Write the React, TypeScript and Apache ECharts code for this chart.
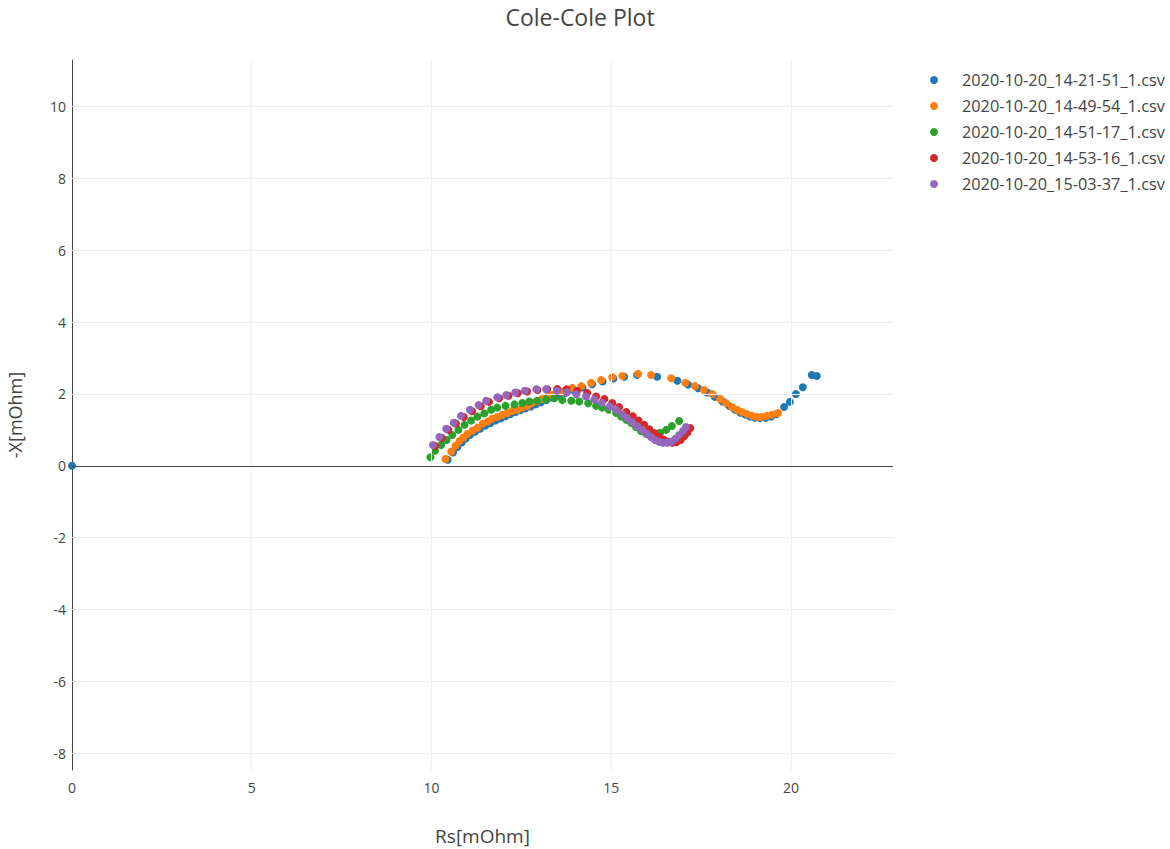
import React, { useEffect, useRef } from "react";
import * as echarts from "echarts";

const seriesNames = [
  "2020-10-20_14-21-51_1.csv",
  "2020-10-20_14-49-54_1.csv",
  "2020-10-20_14-51-17_1.csv",
  "2020-10-20_14-53-16_1.csv",
  "2020-10-20_15-03-37_1.csv",
];
const colors = ["#1f77b4", "#ff7f0e", "#2ca02c", "#d62728", "#9467bd"];

const xTicks = [0, 5, 10, 15, 20];
const yTicks = [-8, -6, -4, -2, 0, 2, 4, 6, 8, 10];

const blue: number[][] = [
  [0, 0],
  [10.45, 0.17], [10.6, 0.37], [10.72, 0.52], [10.84, 0.65], [10.95, 0.76], [11.07, 0.86],
  [11.21, 0.95], [11.35, 1.03], [11.5, 1.12], [11.64, 1.19], [11.78, 1.26], [11.92, 1.32],
  [12.06, 1.38], [12.2, 1.44], [12.34, 1.5], [12.48, 1.55], [12.62, 1.6], [12.76, 1.65],
  [12.9, 1.71], [13.05, 1.77], [13.2, 1.83], [13.36, 1.9], [13.53, 1.96], [13.72, 2.03],
  [13.95, 2.11], [14.2, 2.18], [14.47, 2.27], [14.76, 2.35], [15.06, 2.43], [15.36, 2.48],
  [15.72, 2.53], [16.28, 2.48], [16.84, 2.37], [17.14, 2.26], [17.42, 2.16], [17.67, 2.04],
  [17.88, 1.92], [18.1, 1.79], [18.28, 1.67], [18.45, 1.56], [18.6, 1.48], [18.74, 1.42],
  [18.87, 1.37], [19.0, 1.34], [19.14, 1.33], [19.3, 1.34], [19.45, 1.37], [19.6, 1.44],
  [19.81, 1.64], [19.97, 1.78], [20.14, 2.0], [20.33, 2.19], [20.58, 2.53], [20.72, 2.5],
];

const orange: number[][] = [
  [10.39, 0.19], [10.55, 0.4], [10.67, 0.56], [10.78, 0.69], [10.89, 0.79], [11.0, 0.89],
  [11.14, 0.98], [11.28, 1.06], [11.42, 1.17], [11.56, 1.23], [11.69, 1.31], [11.83, 1.36],
  [11.97, 1.42], [12.11, 1.47], [12.25, 1.53], [12.39, 1.56], [12.53, 1.62], [12.67, 1.67],
  [12.8, 1.75], [12.94, 1.8], [13.08, 1.86], [13.22, 1.92], [13.36, 1.97], [13.64, 2.06],
  [13.92, 2.17], [14.17, 2.22], [14.44, 2.31], [14.72, 2.39], [15.03, 2.47], [15.31, 2.5],
  [15.75, 2.56], [16.11, 2.53], [16.67, 2.44], [17.06, 2.31], [17.33, 2.22], [17.58, 2.11],
  [17.81, 2.0], [18.03, 1.86], [18.19, 1.75], [18.36, 1.64], [18.5, 1.56], [18.64, 1.5],
  [18.78, 1.44], [18.92, 1.39], [19.06, 1.36], [19.19, 1.36], [19.33, 1.39], [19.47, 1.42],
  [19.64, 1.47],
];

const green: number[][] = [
  [9.97, 0.24], [10.1, 0.42], [10.27, 0.58], [10.42, 0.72], [10.58, 0.86], [10.75, 1.0],
  [10.92, 1.14], [11.1, 1.26], [11.28, 1.37], [11.47, 1.46], [11.66, 1.56], [11.83, 1.62],
  [12.06, 1.67], [12.31, 1.71], [12.53, 1.75], [12.72, 1.79], [12.94, 1.81], [13.19, 1.85],
  [13.42, 1.88], [13.64, 1.83], [13.89, 1.81], [14.11, 1.79], [14.36, 1.74], [14.58, 1.67],
  [14.75, 1.62], [14.94, 1.56], [15.14, 1.47], [15.28, 1.37], [15.42, 1.28], [15.56, 1.19],
  [15.69, 1.08], [15.83, 0.97], [15.97, 0.89], [16.11, 0.81], [16.25, 0.8], [16.36, 0.92],
  [16.53, 1.0], [16.69, 1.11], [16.89, 1.25],
];

const red: number[][] = [
  [10.1, 0.55], [10.28, 0.78], [10.47, 1.0], [10.68, 1.18], [10.9, 1.36], [11.13, 1.52],
  [11.37, 1.66], [11.6, 1.78], [11.88, 1.88], [12.14, 1.95], [12.4, 2.02], [12.66, 2.07],
  [12.95, 2.11], [13.22, 2.13], [13.5, 2.14], [13.76, 2.13], [14.05, 2.09], [14.33, 2.03],
  [14.58, 1.93], [14.81, 1.86], [15.03, 1.75], [15.22, 1.64], [15.42, 1.5], [15.6, 1.38],
  [15.76, 1.26], [15.92, 1.14], [16.06, 1.02], [16.2, 0.91], [16.33, 0.81], [16.46, 0.73],
  [16.58, 0.67], [16.7, 0.64], [16.82, 0.66], [16.93, 0.72], [17.03, 0.82], [17.12, 0.93],
  [17.2, 1.05],
];

const purple: number[][] = [
  [10.04, 0.58], [10.22, 0.8], [10.41, 1.03], [10.62, 1.2], [10.82, 1.39], [11.07, 1.56],
  [11.31, 1.69], [11.52, 1.81], [11.83, 1.91], [12.08, 1.97], [12.33, 2.04], [12.6, 2.09],
  [12.92, 2.13], [13.19, 2.13], [13.49, 2.09], [13.77, 2.05], [14.03, 1.99], [14.3, 1.93],
  [14.53, 1.85], [14.74, 1.76], [14.96, 1.65], [15.14, 1.56], [15.31, 1.44], [15.44, 1.33],
  [15.58, 1.22], [15.72, 1.11], [15.86, 1.0], [16.0, 0.89], [16.11, 0.8], [16.22, 0.72],
  [16.33, 0.67], [16.44, 0.64], [16.56, 0.64], [16.67, 0.67], [16.78, 0.75], [16.89, 0.86],
  [17.0, 0.97], [17.08, 1.08],
];

const allData = [blue, orange, green, red, purple];

export default function App() {
  const ref = useRef<HTMLDivElement>(null);
  useEffect(() => {
    if (!ref.current) return;
    const chart = echarts.init(ref.current, null, { renderer: "svg" });
    const font = "'Open Sans', 'Noto Sans', sans-serif";
    const gridLines = [
      ...xTicks.filter((v) => v !== 0).map((v) => ({ xAxis: v })),
      ...yTicks.filter((v) => v !== 0).map((v) => ({ yAxis: v })),
    ];
    chart.setOption({
      animation: false,
      backgroundColor: "#fff",
      textStyle: { fontFamily: font },
      title: {
        text: "Cole-Cole Plot",
        left: 575,
        top: 0,
        textAlign: "center",
        textStyle: { fontFamily: font, fontSize: 23, fontWeight: "normal", color: "#444" },
      },
      legend: {
        orient: "vertical",
        left: 930,
        top: 70,
        padding: 0,
        itemWidth: 20,
        itemHeight: 8,
        itemGap: 6,
        icon: "circle",
        data: seriesNames,
        textStyle: { fontFamily: font, fontSize: 16.3, color: "#444", lineHeight: 20, padding: [0, 0, 0, 13] },
      },
      grid: { left: 72, right: 277, top: 60, bottom: 79, outerBoundsMode: "none", containLabel: false },
      xAxis: {
        type: "value",
        min: 0,
        max: 22.84,
        name: "Rs[mOhm]",
        nameLocation: "middle",
        nameGap: 56,
        nameTextStyle: { fontFamily: font, fontSize: 19, color: "#444" },
        axisLine: { show: false, onZero: false },
        axisTick: { show: false },
        splitLine: { show: false },
        axisLabel: {
          customValues: xTicks,
          fontFamily: font,
          fontSize: 14,
          color: "#444",
          margin: 10,
        },
      },
      yAxis: {
        type: "value",
        min: -8.47,
        max: 11.3,
        name: "-X[mOhm]",
        nameLocation: "middle",
        nameGap: 48,
        nameTextStyle: { fontFamily: font, fontSize: 18, color: "#444" },
        axisLine: { show: true, onZero: false, lineStyle: { color: "#444", width: 1 } },
        axisTick: { show: false },
        splitLine: { show: false },
        axisLabel: {
          customValues: yTicks,
          fontFamily: font,
          fontSize: 14,
          color: "#444",
          margin: 6,
        },
      },
      series: [
        {
          name: "__grid",
          type: "scatter",
          data: [],
          z: 0,
          silent: true,
          markLine: {
            silent: true,
            symbol: "none",
            label: { show: false },
            lineStyle: { color: "#eee", width: 1, type: "solid" },
            data: gridLines,
          },
        },
        {
          name: "__zero",
          type: "scatter",
          data: [],
          z: 1,
          silent: true,
          markLine: {
            silent: true,
            symbol: "none",
            label: { show: false },
            lineStyle: { color: "#444", width: 1, type: "solid" },
            data: [{ yAxis: 0 }],
          },
        },
        ...seriesNames.map((name, i) => ({
          name,
          type: "scatter",
          data: allData[i],
          symbolSize: 8,
          z: 2 + i,
          itemStyle: { color: colors[i], opacity: 1 },
        })),
      ],
    });
    return () => chart.dispose();
  }, []);
  return <div ref={ref} style={{ width: 1170, height: 849, position: "absolute", left: 0, top: 0 }} />;
}
